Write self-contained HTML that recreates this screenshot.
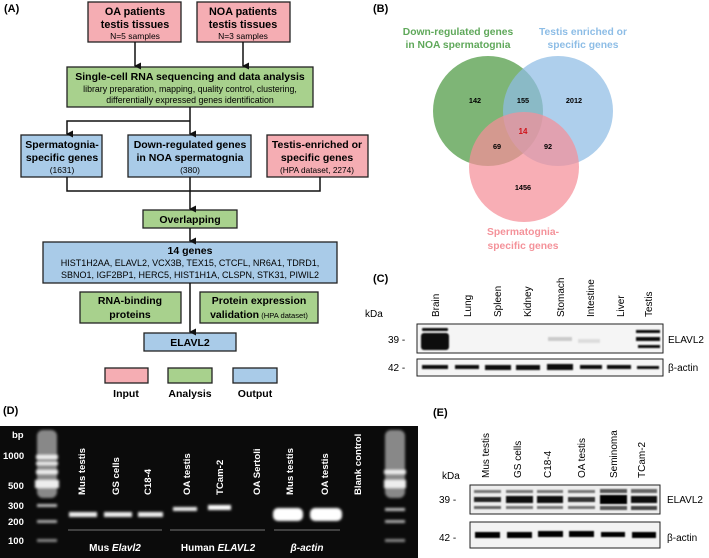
<!DOCTYPE html>
<html><head><meta charset="utf-8"><style>
html,body{margin:0;padding:0;background:#fff}
svg{display:block}
text{font-family:"Liberation Sans",Arial,sans-serif}
.b{font-weight:bold}
.s{font-family:"Liberation Serif",serif;font-weight:bold;fill:#fff}
</style></head><body>
<svg width="709" height="558" viewBox="0 0 709 558" xmlns="http://www.w3.org/2000/svg">
<defs>
<marker id="ar" markerWidth="7" markerHeight="7" refX="3.5" refY="6" orient="auto" markerUnits="userSpaceOnUse"><path d="M0,0 L7,0 L3.5,7 z" fill="#111"/></marker>
<filter id="bl"><feGaussianBlur stdDeviation="1.2"/></filter>
<filter id="bl2"><feGaussianBlur stdDeviation="0.7"/></filter>
</defs>
<!-- (A) -->
<text x="4" y="12" font-size="11" class="b">(A)</text>
<g stroke="#222" stroke-width="1.3">
<rect x="88" y="2" width="93" height="40" fill="#f5adb3"/>
<rect x="197" y="2" width="93" height="40" fill="#f5adb3"/>
<rect x="67" y="67" width="246" height="40" fill="#a8d18d"/>
<rect x="21" y="135" width="81" height="42" fill="#a9cbe8"/>
<rect x="128" y="135" width="123" height="42" fill="#a9cbe8"/>
<rect x="267" y="135" width="101" height="42" fill="#f5adb3"/>
<rect x="143" y="210" width="94" height="18" fill="#a8d18d"/>
<rect x="43" y="242" width="294" height="41" fill="#a9cbe8"/>
<rect x="80" y="292" width="101" height="31" fill="#a8d18d"/>
<rect x="200" y="292" width="118" height="31" fill="#a8d18d"/>
<rect x="144" y="333" width="92" height="18" fill="#a9cbe8"/>
<rect x="105" y="368" width="43" height="15" fill="#f5adb3"/>
<rect x="168" y="368" width="44" height="15" fill="#a8d18d"/>
<rect x="233" y="368" width="44" height="15" fill="#a9cbe8"/>
</g>
<g stroke="#111" stroke-width="1.5" fill="none">
<line x1="135" y1="42" x2="135" y2="66" marker-end="url(#ar)"/>
<line x1="243" y1="42" x2="243" y2="66" marker-end="url(#ar)"/>
<line x1="190" y1="107" x2="190" y2="134" marker-end="url(#ar)"/>
<polyline points="190,121 67,121 67,134" marker-end="url(#ar)"/>
<polyline points="67,177 67,191 320,191 320,177"/>
<line x1="190" y1="177" x2="190" y2="209" marker-end="url(#ar)"/>
<line x1="190" y1="228" x2="190" y2="241" marker-end="url(#ar)"/>
<line x1="190" y1="283" x2="190" y2="332" marker-end="url(#ar)"/>
</g>
<g text-anchor="middle" font-size="10.5">
<text x="135" y="15" class="b" font-size="10.8">OA patients</text><text x="135" y="28" class="b" font-size="10.8">testis tissues</text><text x="135" y="39" font-size="8.5">N=5 samples</text>
<text x="243" y="15" class="b" font-size="10.8">NOA patients</text><text x="243" y="28" class="b" font-size="10.8">testis tissues</text><text x="243" y="39" font-size="8.5">N=3 samples</text>
<text x="190" y="80" class="b">Single-cell RNA sequencing and data analysis</text>
<text x="190" y="92" font-size="8.8">library preparation, mapping, quality control, clustering,</text>
<text x="190" y="103" font-size="8.8">differentially expressed genes identification</text>
<text x="62" y="148" class="b">Spermatognia-</text><text x="62" y="161" class="b">specific genes</text><text x="62" y="173" font-size="8.5">(1631)</text>
<text x="190" y="148" class="b">Down-regulated genes</text><text x="190" y="161" class="b">in NOA spermatognia</text><text x="190" y="173" font-size="8.5">(380)</text>
<text x="317" y="148" class="b">Testis-enriched or</text><text x="317" y="161" class="b">specific genes</text><text x="317" y="173" font-size="8.3">(HPA dataset, 2274)</text>
<text x="190" y="223" class="b">Overlapping</text>
<text x="190" y="254" class="b">14 genes</text>
<text x="190" y="266" font-size="9">HIST1H2AA, ELAVL2, VCX3B, TEX15, CTCFL, NR6A1, TDRD1,</text>
<text x="190" y="278" font-size="9">SBNO1, IGF2BP1, HERC5, HIST1H1A, CLSPN, STK31, PIWIL2</text>
<text x="130" y="304" class="b">RNA-binding</text><text x="130" y="318" class="b">proteins</text>
<text x="259" y="304" class="b">Protein expression</text><text x="259" y="318"><tspan class="b">validation</tspan><tspan font-size="7.6"> (HPA dataset)</tspan></text>
<text x="190" y="346" class="b">ELAVL2</text>
<text x="126" y="397" class="b">Input</text><text x="190" y="397" class="b">Analysis</text><text x="255" y="397" class="b">Output</text>
</g>
<!-- (B) Venn -->
<text x="373" y="12" font-size="11" class="b">(B)</text>
<circle cx="488" cy="111" r="55" fill="#5aa050" fill-opacity="0.78"/>
<circle cx="558" cy="111" r="55" fill="#8fbce4" fill-opacity="0.72"/>
<circle cx="524" cy="167" r="55" fill="#f58f98" fill-opacity="0.72"/>
<g text-anchor="middle" font-size="10.3" class="b">
<text x="458" y="35" fill="#5fa85a">Down-regulated genes</text><text x="458" y="48" fill="#5fa85a">in NOA spermatognia</text>
<text x="583" y="35" fill="#8dbde6">Testis enriched or</text><text x="583" y="48" fill="#8dbde6">specific genes</text>
<text x="523" y="235" fill="#f4929a">Spermatognia-</text><text x="523" y="249" fill="#f4929a">specific genes</text>
</g>
<g text-anchor="middle" font-size="7.3" class="b">
<text x="475" y="103">142</text><text x="523" y="103">155</text><text x="574" y="103">2012</text>
<text x="523" y="134" fill="#d0141a" font-size="8">14</text><text x="497" y="149">69</text><text x="548" y="149">92</text><text x="523" y="190">1456</text>
</g>
<!-- (C) -->
<text x="373" y="282" font-size="11" class="b">(C)</text>
<text x="365" y="317" font-size="10">kDa</text>
<g font-size="10">
<text transform="translate(439,317) rotate(-90)">Brain</text>
<text transform="translate(471,317) rotate(-90)">Lung</text>
<text transform="translate(501,317) rotate(-90)">Spleen</text>
<text transform="translate(531,317) rotate(-90)">Kidney</text>
<text transform="translate(564,317) rotate(-90)">Stomach</text>
<text transform="translate(594,317) rotate(-90)">Intestine</text>
<text transform="translate(624,317) rotate(-90)">Liver</text>
<text transform="translate(652,317) rotate(-90)">Testis</text>
<text x="388" y="343">39 -</text><text x="388" y="371">42 -</text>
<text x="668" y="343">ELAVL2</text><text x="668" y="371">β-actin</text>
</g>
<rect x="417" y="324" width="246" height="29" fill="#f5f5f5" stroke="#222"/>
<rect x="417" y="359" width="246" height="17" fill="#f5f5f5" stroke="#222"/>
<g filter="url(#bl2)" fill="#111">
<rect x="422" y="328" width="26" height="3" rx="1"/>
<rect x="421" y="333" width="28" height="17" rx="3"/>
<rect x="636" y="330" width="24" height="3"/><rect x="636" y="337" width="24" height="4"/><rect x="638" y="345" width="22" height="3"/>
<rect x="548" y="337" width="24" height="4" fill="#ccc"/><rect x="578" y="339" width="22" height="4" fill="#ddd"/>
<rect x="422" y="365" width="26" height="4"/><rect x="455" y="365" width="24" height="4"/><rect x="485" y="365" width="26" height="5"/>
<rect x="516" y="365" width="24" height="5"/><rect x="547" y="364" width="26" height="6"/><rect x="580" y="365" width="22" height="4"/>
<rect x="607" y="365" width="24" height="4"/><rect x="637" y="366" width="22" height="3"/>
</g>
<!-- (D) gel -->
<text x="3" y="414" font-size="11" class="b">(D)</text>
<rect x="0" y="426" width="418" height="132" fill="#0b0b0b"/>
<g font-size="9.5" class="s">
<text x="12" y="438">bp</text><text x="3" y="459">1000</text><text x="8" y="489">500</text><text x="8" y="509">300</text><text x="8" y="525">200</text><text x="8" y="544">100</text>
</g>
<g filter="url(#bl)" fill="#eee">
<rect x="37" y="430" width="20" height="68" rx="6" fill="#888"/>
<rect x="36" y="455" width="22" height="4" /><rect x="36" y="462" width="22" height="3"/><rect x="36" y="470" width="22" height="4"/><rect x="35" y="480" width="24" height="8"/>
<rect x="37" y="504" width="20" height="3" fill="#bbb"/><rect x="37" y="520" width="20" height="3" fill="#aaa"/><rect x="37" y="539" width="20" height="3" fill="#888"/>
<rect x="385" y="430" width="20" height="68" rx="6" fill="#888"/>
<rect x="384" y="470" width="22" height="4"/><rect x="384" y="480" width="22" height="8"/>
<rect x="385" y="508" width="20" height="3" fill="#bbb"/><rect x="385" y="520" width="20" height="3" fill="#aaa"/><rect x="385" y="539" width="20" height="3" fill="#888"/>
<rect x="69" y="512" width="28" height="5"/><rect x="104" y="512" width="28" height="5"/><rect x="138" y="512" width="25" height="5"/>
<rect x="173" y="507" width="24" height="4"/><rect x="208" y="505" width="23" height="5" fill="#fff"/>
<rect x="273" y="508" width="30" height="13" rx="5" fill="#fff"/><rect x="310" y="508" width="32" height="13" rx="5" fill="#fff"/>
</g>
<g font-size="9.6" class="s">
<text transform="translate(85,495) rotate(-90)">Mus testis</text>
<text transform="translate(119,495) rotate(-90)">GS cells</text>
<text transform="translate(151,495) rotate(-90)">C18-4</text>
<text transform="translate(190,495) rotate(-90)">OA testis</text>
<text transform="translate(223,495) rotate(-90)">TCam-2</text>
<text transform="translate(260,495) rotate(-90)">OA Sertoli</text>
<text transform="translate(293,495) rotate(-90)">Mus testis</text>
<text transform="translate(328,495) rotate(-90)">OA testis</text>
<text transform="translate(361,495) rotate(-90)">Blank control</text>
</g>
<g stroke="#999" stroke-width="0.8"><line x1="68" y1="530" x2="162" y2="530"/><line x1="170" y1="530" x2="265" y2="530"/><line x1="274" y1="530" x2="340" y2="530"/></g>
<g font-size="10" class="s" text-anchor="middle">
<text x="115" y="551">Mus <tspan font-style="italic">Elavl2</tspan></text>
<text x="218" y="551">Human <tspan font-style="italic">ELAVL2</tspan></text>
<text x="307" y="551" font-style="italic">β-actin</text>
</g>
<!-- (E) -->
<text x="433" y="416" font-size="11" class="b">(E)</text>
<g font-size="10">
<text x="442" y="479">kDa</text>
<text transform="translate(489,478) rotate(-90)">Mus testis</text>
<text transform="translate(521,478) rotate(-90)">GS cells</text>
<text transform="translate(551,478) rotate(-90)">C18-4</text>
<text transform="translate(585,478) rotate(-90)">OA testis</text>
<text transform="translate(617,478) rotate(-90)">Seminoma</text>
<text transform="translate(645,478) rotate(-90)">TCam-2</text>
<text x="439" y="503">39 -</text><text x="439" y="541">42 -</text>
<text x="667" y="503">ELAVL2</text><text x="667" y="541">β-actin</text>
</g>
<rect x="470" y="485" width="190" height="29" fill="#eee" stroke="#222"/>
<rect x="470" y="522" width="190" height="26" fill="#f3f3f3" stroke="#222"/>
<g filter="url(#bl2)" fill="#222">
<rect x="474" y="490" width="27" height="3" fill="#777"/><rect x="506" y="490" width="27" height="3" fill="#777"/><rect x="537" y="490" width="26" height="3" fill="#777"/><rect x="568" y="490" width="27" height="3" fill="#777"/><rect x="600" y="489" width="27" height="4" fill="#555"/><rect x="631" y="489" width="26" height="4" fill="#666"/>
<rect x="474" y="497" width="27" height="5"/><rect x="506" y="496" width="27" height="7" fill="#111"/><rect x="537" y="496" width="26" height="7" fill="#111"/><rect x="568" y="497" width="27" height="5" fill="#333"/><rect x="600" y="495" width="27" height="9" fill="#000"/><rect x="631" y="496" width="26" height="7" fill="#111"/>
<rect x="474" y="506" width="27" height="3" fill="#666"/><rect x="506" y="506" width="27" height="3" fill="#777"/><rect x="537" y="506" width="26" height="3" fill="#777"/><rect x="568" y="506" width="27" height="3" fill="#777"/><rect x="600" y="506" width="27" height="4" fill="#555"/><rect x="631" y="506" width="26" height="4" fill="#444"/>
<rect x="475" y="532" width="25" height="6" fill="#000"/><rect x="507" y="532" width="25" height="6" fill="#000"/><rect x="538" y="531" width="25" height="6" fill="#000"/><rect x="569" y="531" width="25" height="6" fill="#000"/><rect x="601" y="532" width="24" height="5" fill="#000"/><rect x="632" y="532" width="24" height="6" fill="#000"/>
</g>
</svg>
</body></html>
